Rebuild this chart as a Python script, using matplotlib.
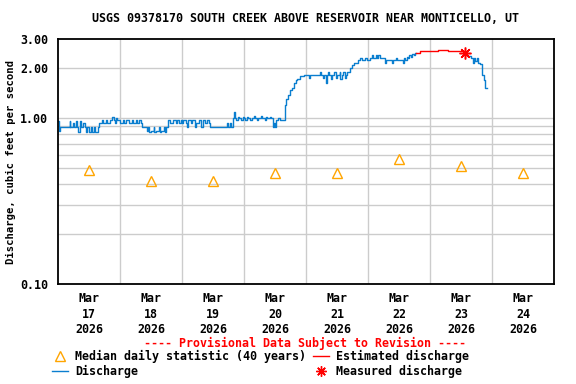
import numpy as np
import matplotlib
matplotlib.use("Agg")
import matplotlib.pyplot as plt
from matplotlib.lines import Line2D

plt.rcParams["font.family"] = "DejaVu Sans Mono"
plt.rcParams["font.weight"] = "bold"

# hours since Mar 17 00:00 and discharge (cfs)
q_hours = [0.0, 0.3, 0.7, 4.5, 4.8, 5.7, 6.0, 7.0, 7.3, 7.7, 8.4, 8.8, 9.5, 10.5, 11.0, 11.4,
           12.0, 12.8, 13.3, 14.0, 14.5, 15.3, 16.0, 17.0, 17.3, 18.5, 19.0, 20.0, 21.0, 21.5,
           22.0, 22.5, 23.0,
           24.0, 25.0, 25.5, 26.5, 27.5, 28.5, 29.0, 30.0, 30.5, 31.5, 32.0, 32.4, 34.3, 35.0,
           35.3, 36.0, 37.0, 37.3, 38.0, 39.0, 39.3, 40.0, 41.0, 41.3, 41.7, 42.7, 43.3, 44.5,
           45.5, 46.0, 47.0, 47.5,
           48.0, 48.5, 49.5, 50.0, 50.5, 51.5, 52.0, 53.0, 53.5, 54.5, 55.5, 56.0, 57.0, 57.5,
           58.5, 59.0, 65.5, 66.0, 66.5, 67.0, 67.6, 68.0, 68.4, 69.0, 69.5, 70.0, 71.0, 71.5,
           72.0, 72.5, 73.0, 73.5, 74.5, 75.0, 76.0, 76.4, 77.0, 77.5, 78.5, 79.0, 80.0, 80.5,
           81.0, 82.0, 82.5, 83.1, 83.6, 84.0, 84.3, 85.0, 86.0, 87.8, 88.3, 89.0, 89.7, 90.5,
           91.3, 92.0, 92.5, 93.2, 93.5, 95.1,
           97.0, 97.4, 101.3, 101.7, 102.5, 103.0, 103.6, 104.0, 104.5, 105.0, 105.5, 106.0,
           107.0, 107.5, 108.0, 109.0, 109.3, 110.0, 110.5, 111.0, 111.5, 112.0, 112.9, 113.7,
           114.5, 116.0, 117.0, 117.5, 119.0, 119.5,
           120.7, 121.5, 122.0, 123.0, 123.4, 124.0, 124.6, 126.5, 127.0, 129.2, 129.6, 131.0,
           131.4, 133.4, 133.8, 134.5, 135.0, 135.5, 136.0, 136.5, 137.0, 137.7, 138.2, 138.7]
q_values = [0.96, 0.84, 0.88, 0.96, 0.88, 0.93, 0.88, 0.96, 0.88, 0.82, 0.96, 0.88, 0.93, 0.88, 0.82, 0.88,
            0.82, 0.88, 0.82, 0.88, 0.82, 0.88, 0.93, 0.97, 0.93, 0.97, 0.93, 0.97, 1.02, 0.97,
            0.93, 1.00, 0.97,
            0.93, 0.97, 0.93, 0.97, 0.93, 0.97, 0.93, 0.97, 0.93, 0.97, 0.93, 0.88, 0.84, 0.88,
            0.82, 0.84, 0.88, 0.82, 0.84, 0.88, 0.82, 0.84, 0.88, 0.82, 0.88, 0.97, 0.93, 0.97,
            0.93, 0.97, 0.93, 0.97,
            0.93, 0.97, 0.93, 0.88, 0.97, 0.93, 0.97, 0.88, 0.93, 0.97, 0.88, 0.97, 0.93, 0.97,
            0.93, 0.88, 0.93, 0.88, 0.93, 0.88, 1.00, 1.09, 1.00, 0.97, 1.02, 1.00, 0.97, 1.02,
            1.00, 0.97, 1.02, 1.00, 0.97, 1.00, 1.03, 1.00, 0.97, 1.00, 1.03, 1.00, 0.97, 1.02,
            1.00, 1.02, 1.00, 0.88, 0.93, 0.88, 0.97, 1.00, 0.97, 1.20, 1.31, 1.38, 1.47, 1.53,
            1.62, 1.69, 1.73, 1.71, 1.80, 1.82,
            1.75, 1.82, 1.90, 1.82, 1.75, 1.82, 1.62, 1.82, 1.90, 1.82, 1.71, 1.82,
            1.90, 1.75, 1.82, 1.90, 1.71, 1.82, 1.90, 1.75, 1.82, 1.90, 2.00, 2.08,
            2.15, 2.24, 2.30, 2.24, 2.30, 2.24,
            2.30, 2.40, 2.30, 2.40, 2.30, 2.40, 2.30, 2.16, 2.24, 2.16, 2.24, 2.30,
            2.24, 2.16, 2.30, 2.24, 2.35, 2.30, 2.40, 2.35, 2.42, 2.40, 2.48, 2.48]

# estimated discharge (red)
est_hours = [138.7, 140.0, 147.0, 150.9, 157.4]
est_values = [2.48, 2.54, 2.57, 2.54, 2.47]

# discharge after the measurement
q2_hours = [157.4, 158.5, 159.7, 160.6, 161.2, 161.6, 162.2, 162.6, 163.4, 164.1, 164.9, 165.3, 166.1]
q2_values = [2.47, 2.37, 2.30, 2.15, 2.30, 2.20, 2.30, 2.15, 2.12, 1.82, 1.69, 1.52, 1.52]

# measured discharge
meas_hours = [157.4]
meas_values = [2.47]

# median daily statistic, at noon of each day
days = ["17", "18", "19", "20", "21", "22", "23", "24"]
median_values = [0.487, 0.42, 0.42, 0.469, 0.466, 0.567, 0.514, 0.47]

BLUE = "#0a7ecf"
FS = 8.4

fig = plt.figure(figsize=(5.76, 3.84), dpi=100)
ax = fig.add_axes([58 / 576, 1 - 284 / 384, 496 / 576, 245 / 384])

ax.plot(q_hours, q_values, color=BLUE, lw=1.0, drawstyle="steps-post")
ax.plot(q2_hours, q2_values, color=BLUE, lw=1.0, drawstyle="steps-post")
ax.plot(est_hours, est_values, color="red", lw=1.0, drawstyle="steps-post")
ax.plot(meas_hours, meas_values, ls="none", marker=(8, 2, 0), ms=8.5, mec="red", mew=1.1)
noon = [12 + 24 * i for i in range(len(days))]
ax.plot(noon, median_values, ls="none", marker="^", ms=6.5, mfc="none", mec="orange", mew=1.0)

ax.set_yscale("log")
ax.set_ylim(0.1, 3.0)
ax.set_xlim(0, 192)
ax.set_yticks([0.1, 1.0, 2.0, 3.0])
ax.set_yticklabels(["0.10", "1.00", "2.00", "3.00"], fontsize=FS, fontweight="bold")
ax.set_yticks([0.2, 0.3, 0.4, 0.5, 0.6, 0.7, 0.8, 0.9], minor=True)
ax.yaxis.set_minor_formatter(matplotlib.ticker.NullFormatter())
ax.set_xticks(noon)
ax.set_xticklabels([f"Mar\n{d}\n2026" for d in days], fontsize=FS, fontweight="bold", linespacing=1.22)
ax.set_xticks([24 * i for i in range(1, 8)], minor=True)
ax.tick_params(which="both", length=0)
ax.tick_params(axis="y", pad=7)
ax.tick_params(axis="x", pad=6)

for y in [0.2, 0.3, 0.4, 0.5, 0.6, 0.7, 0.8, 0.9, 1.0, 2.0]:
    ax.axhline(y, color="#cccccc", lw=1.0, zorder=0)
for x in range(24, 192, 24):
    ax.axvline(x, color="#cccccc", lw=1.0, zorder=0)
for s in ax.spines.values():
    s.set_linewidth(1.3)

ax.set_ylabel("Discharge, cubic feet per second", fontsize=7.6, fontweight="bold")
ax.yaxis.set_label_coords(-0.085, 0.5)

fig.text(306 / 576, 1 - 19 / 384, "USGS 09378170 SOUTH CREEK ABOVE RESERVOIR NEAR MONTICELLO, UT",
         ha="center", va="center", fontsize=FS, fontweight="bold")
fig.text(305 / 576, 1 - 343 / 384, "---- Provisional Data Subject to Revision ----",
         ha="center", va="center", fontsize=FS, fontweight="bold", color="red")

handles = [
    Line2D([], [], ls="none", marker="^", ms=6.5, mfc="none", mec="orange", mew=1.0),
    Line2D([], [], color=BLUE, lw=1.0),
    Line2D([], [], color="red", lw=1.0),
    Line2D([], [], ls="none", marker=(8, 2, 0), ms=7.5, mec="red", mew=1.0),
]
labels = ["Median daily statistic (40 years)", "Discharge", "Estimated discharge", "Measured discharge"]
fig.legend(handles, labels, ncol=2, loc="upper left", bbox_to_anchor=(46 / 576, 1 - 344 / 384),
           frameon=False, prop={"size": FS, "weight": "bold"}, handlelength=1.4,
           handletextpad=0.6, columnspacing=0.6, labelspacing=0.2, borderpad=0)

fig.savefig("out.png", dpi=100)
